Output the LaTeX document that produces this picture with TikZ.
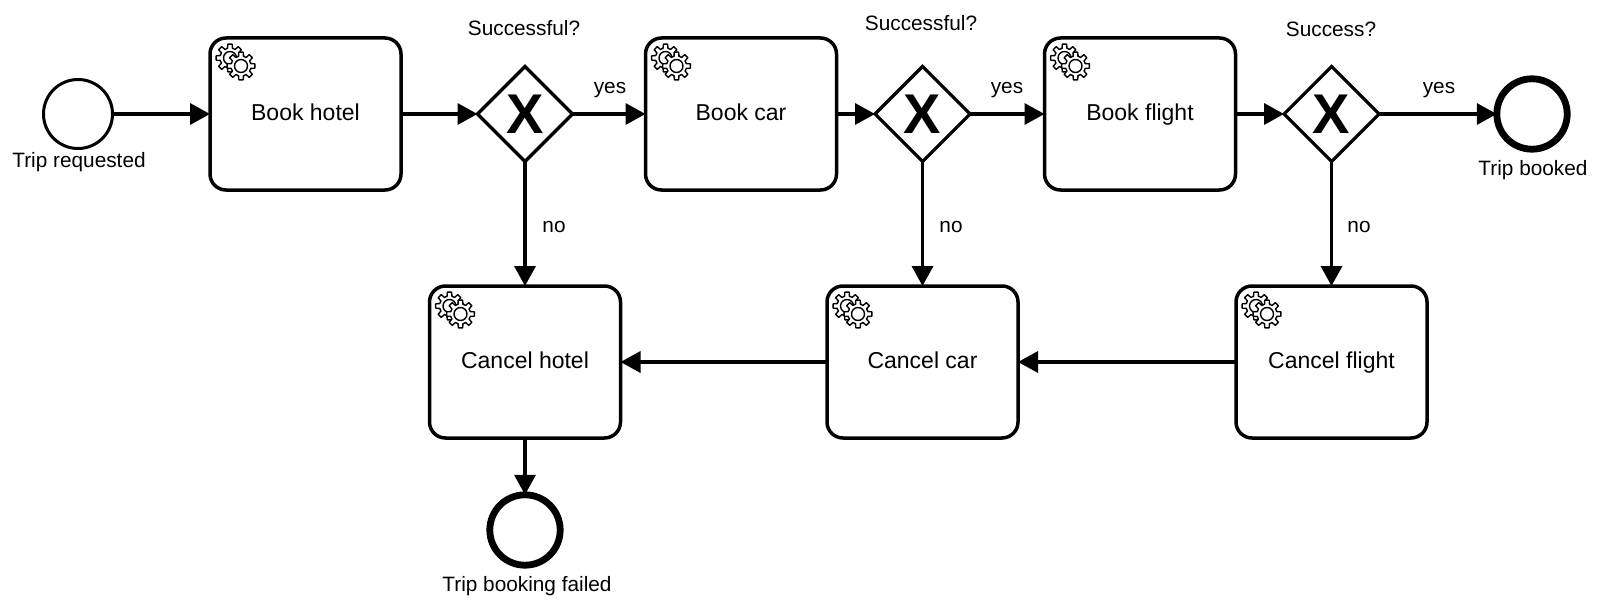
\documentclass[tikz,border=0pt]{standalone}
\usepackage{fontspec}
\setmainfont{Liberation Sans}
\usetikzlibrary{arrows.meta,shapes.geometric}
\tikzset{
	task/.style={draw,line width=1.75pt,rounded corners=8pt,minimum width=95.5pt,minimum height=76pt,inner sep=0pt,outer sep=0pt,text height=9pt,text depth=2.3pt,font=\fontsize{11.5}{14}\selectfont},
	gateway/.style={draw,diamond,aspect=1,line width=1.6pt,minimum size=47.5pt,inner sep=0pt,outer sep=0pt,font=\fontsize{28}{28}\selectfont\bfseries},
	startevent/.style={draw,circle,line width=1.5pt,minimum size=34.5pt,inner sep=0pt,outer sep=0pt},
	endevent/.style={draw,circle,line width=3.4pt,minimum size=35.2pt,inner sep=0pt,outer sep=0pt},
	label/.style={inner sep=0pt,text height=7.6pt,text depth=2.2pt,font=\fontsize{10.4}{13}\selectfont},
	flow/.style={line width=1.75pt,-{Triangle[length=10pt,width=10.5pt]}},
	gearwheel/.pic={
		\draw[line width=0.7pt,fill=white,line join=round] (-14:10) \foreach \a in {0,45,...,315} {-- (\a-14:10) -- (\a-9:14) -- (\a+9:14) -- (\a+14:10)} -- cycle;
		\draw[line width=0.7pt,fill=white] (0,0) circle (6.5);
	}
}
\begin{document}
\begin{tikzpicture}[x=0.5pt,y=-0.5pt]
	\useasboundingbox (0,0) rectangle (1600,610);
	% top row
	\node[startevent] (requested) at (78,114) {};
	\node[task] (bookhotel) at (305.5,114) {Book hotel};
	\node[gateway] (hotelok) at (525,114) {X};
	\node[task] (bookcar) at (741,114) {Book car};
	\node[gateway] (carok) at (922.5,114) {X};
	\node[task] (bookflight) at (1140,114) {Book flight};
	\node[gateway] (flightok) at (1331.5,114) {X};
	\node[endevent] (booked) at (1532,114) {};
	% bottom row
	\node[task] (cancelhotel) at (525,362) {Cancel hotel};
	\node[task] (cancelcar) at (922.5,362) {Cancel car};
	\node[task] (cancelflight) at (1331.5,362) {Cancel flight};
	\node[endevent] (failed) at (525,530) {};
	% gears
	\foreach \t in {bookhotel,bookcar,bookflight,cancelhotel,cancelcar,cancelflight} {
		\path (\t.north west) ++(20,20) pic {gearwheel};
		\path (\t.north west) ++(31,28) pic {gearwheel};
	}
	% texts
	\node[label] (lrequested) at (79,162) {Trip requested};
	\node[label] (lbooked) at (1533,170) {Trip booked};
	\node[label] (lfailed) at (527,586) {Trip booking failed};
	\node[label] (qhotel) at (524,30) {Successful?};
	\node[label] (qcar) at (921,25) {Successful?};
	\node[label] (qflight) at (1331,31) {Success?};
	\node[label] (yeshotel) at (610,88) {yes};
	\node[label] (yescar) at (1007,88) {yes};
	\node[label] (yesflight) at (1439,88) {yes};
	\node[label] (nohotel) at (554,227) {no};
	\node[label] (nocar) at (951,227) {no};
	\node[label] (noflight) at (1359,227) {no};
	% flows
	\draw[flow] (requested) -- (bookhotel);
	\draw[flow] (bookhotel) -- (hotelok);
	\draw[flow] (hotelok) -- (bookcar);
	\draw[flow] (bookcar) -- (carok);
	\draw[flow] (carok) -- (bookflight);
	\draw[flow] (bookflight) -- (flightok);
	\draw[flow] (flightok) -- (booked);
	\draw[flow] (hotelok) -- (cancelhotel);
	\draw[flow] (carok) -- (cancelcar);
	\draw[flow] (flightok) -- (cancelflight);
	\draw[flow] (cancelflight) -- (cancelcar);
	\draw[flow] (cancelcar) -- (cancelhotel);
	\draw[flow] (cancelhotel) -- (failed);
\end{tikzpicture}
\end{document}
